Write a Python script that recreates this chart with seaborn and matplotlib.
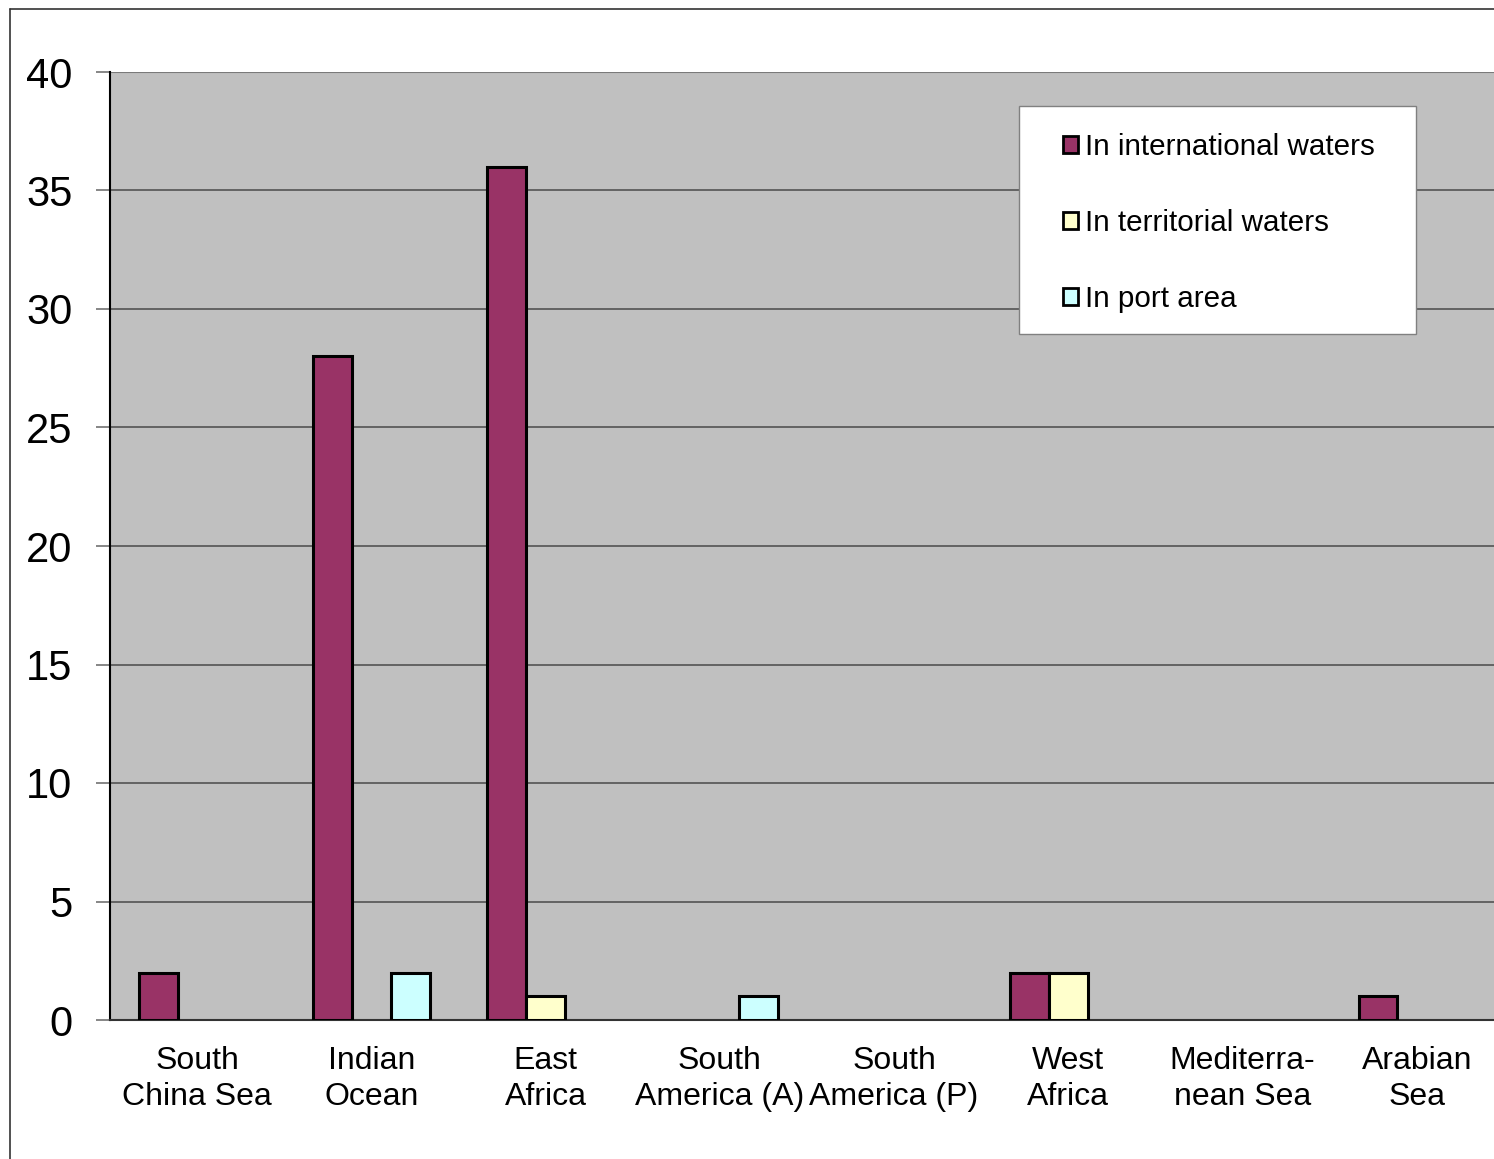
import pandas as pd
import matplotlib
matplotlib.use("Agg")
import matplotlib.pyplot as plt
import seaborn as sns
from matplotlib.lines import Line2D
from matplotlib.patches import Patch, Rectangle

# Daten aus dem Diagramm
regions = ["South\nChina Sea", "Indian\nOcean", "East\nAfrica", "South\nAmerica (A)",
           "South\nAmerica (P)", "West\nAfrica", "Mediterra-\nnean Sea", "Arabian\nSea"]
international = [2, 28, 36, 0, 0, 2, 0, 1]
territorial = [0, 0, 1, 0, 0, 2, 0, 0]
port_area = [0, 2, 0, 1, 0, 0, 0, 0]
series = ["In international waters", "In territorial waters", "In port area"]
colors = ["#993366", "#FFFFCC", "#CCFFFF"]
y_ticks = [0, 5, 10, 15, 20, 25, 30, 35, 40]

df = pd.DataFrame({"Region": regions, series[0]: international,
                   series[1]: territorial, series[2]: port_area})
long_df = df.melt(id_vars="Region", var_name="Location", value_name="Count")

sns.set_style("white")
plt.rcParams["font.family"] = ["Liberation Sans", "DejaVu Sans"]
plt.rcParams["text.color"] = "black"
plt.rcParams["xtick.color"] = "black"
plt.rcParams["ytick.color"] = "black"

W, H = 1494, 1159
fig = plt.figure(figsize=(W / 100, H / 100), dpi=100)
ax = fig.add_axes([110 / W, 1 - 1020 / H, 1394 / W, 948 / H])
ax.set_facecolor("#C0C0C0")

sns.barplot(data=long_df, x="Region", y="Count", hue="Location", order=regions,
            hue_order=series, palette=colors, width=0.67, edgecolor="black",
            linewidth=2.2, errorbar=None, saturation=1, ax=ax, zorder=3, legend=False)

# Nullwerte unsichtbar machen
for cont in ax.containers:
    for p in cont:
        if p.get_height() == 0:
            p.set_visible(False)

ax.set_ylim(0, 40)
ax.set_xlim(-0.5, len(regions) - 0.5)
ax.set_yticks(y_ticks)
ax.yaxis.grid(True, color="#4a4a4a", linewidth=1.1, zorder=0)
ax.set_axisbelow(True)
ax.tick_params(axis="y", labelsize=30, length=10, width=1.1, color="#666666",
               labelcolor="black", pad=17, left=True)
ax.tick_params(axis="x", labelsize=23, length=0, pad=19, labelcolor="black")
for lab in ax.get_xticklabels():
    lab.set_linespacing(1.25)
ax.set_xlabel("")
ax.set_ylabel("")

for side in ["top", "right"]:
    ax.spines[side].set_visible(False)
ax.spines["left"].set_color("black")
ax.spines["left"].set_linewidth(1.5)
ax.spines["bottom"].set_color("#333333")
ax.spines["bottom"].set_linewidth(1.5)
# obere Rahmenlinie der Zeichenfläche
ax.axhline(40, color="#7a7a7a", linewidth=1.5, zorder=1)

# Legendenkasten (Pixelmaße aus der Vorlage)
box_x0, box_y0, box_x1, box_y1 = 1019, 106, 1416, 334
to_ax = lambda px, py: ((px - 110) / 1394, 1 - (py - 72) / 948)
bx, by = to_ax(box_x0, box_y1)
ax.add_patch(Rectangle((bx, by), (box_x1 - box_x0) / 1394, (box_y1 - box_y0) / 948,
                       transform=ax.transAxes, facecolor="white", edgecolor="#808080",
                       linewidth=1.0, zorder=5))

handles = [Patch(facecolor=c, edgecolor="black", linewidth=2.0) for c in colors]
leg = ax.legend(handles, series, loc="upper left", bbox_to_anchor=to_ax(1063, 133),
                fontsize=21.3, frameon=False, handlelength=0.52, handleheight=0.52,
                handletextpad=0.22, labelspacing=1.62, borderpad=0, borderaxespad=0)
leg.set_zorder(6)
for txt in leg.get_texts():
    txt.set_color("black")

# Rahmen um das Diagramm (nur links und oben sichtbar)
fig.add_artist(Line2D([9.5 / W, 9.5 / W], [0, 1 - 8.5 / H], transform=fig.transFigure,
                      color="#333333", linewidth=1.2))
fig.add_artist(Line2D([9.5 / W, 1], [1 - 8.5 / H, 1 - 8.5 / H], transform=fig.transFigure,
                      color="#333333", linewidth=1.2))

fig.savefig("out.png", dpi=100)
